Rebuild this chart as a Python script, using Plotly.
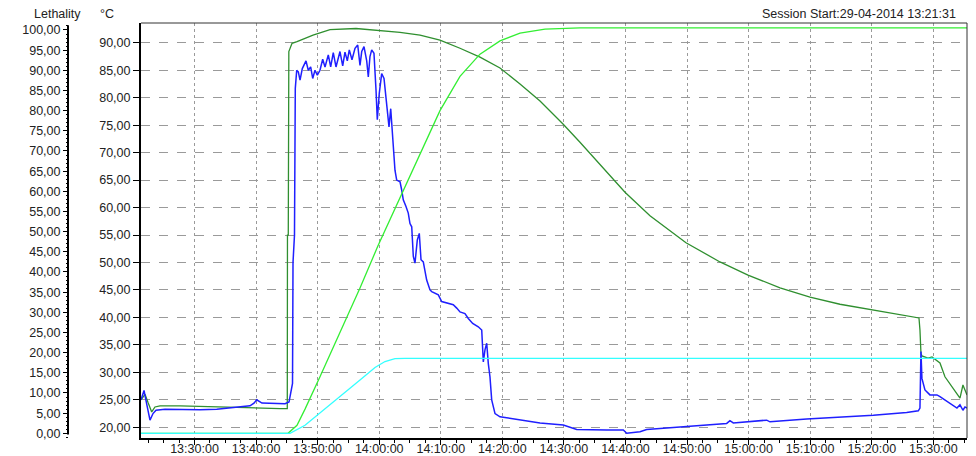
import pandas as pd
import plotly.graph_objects as go

# ---------------- data (time in minutes after 13:00 on 29-04-2014) ----------------
SESSION_DAY = "2014-04-29 13:00:00"

temp1_min = [21.31, 21.64, 21.96, 22.45, 23.05, 23.58, 24.40, 27.64, 30.89, 33.33, 37.39,
             40.64, 43.89, 45.07, 45.10, 45.23, 45.32, 45.84, 46.65, 49.25, 52.01, 56.23,
             59.80, 63.38, 66.63, 69.87, 73.12, 76.37, 79.62, 82.87, 86.12, 89.85, 92.61,
             95.86, 99.92, 103.98, 109.83, 115.35, 119.90, 125.10, 129.97, 134.84, 140.04,
             144.59, 147.67, 147.83, 147.99, 148.15, 148.64, 149.13, 149.78, 151.08, 151.89,
             153.03, 154.33, 154.81, 155.14, 155.47]
temp1_val = [25.0, 25.5, 26.0, 24.5, 22.8, 23.7, 23.9, 23.9, 23.8, 23.6, 23.6,
             23.5, 23.4, 23.4, 55.0, 55.0, 88.4, 89.9, 90.2, 91.4, 92.4, 92.6,
             92.3, 91.9, 91.4, 90.5, 89.0, 87.4, 85.4, 82.5, 79.4, 75.2, 71.9,
             67.9, 62.8, 58.5, 53.6, 50.1, 47.7, 45.4, 43.7, 42.4, 41.4,
             40.6, 39.9, 37.7, 33.5, 33.0, 32.8, 32.6, 32.8, 31.7, 29.2,
             27.4, 25.3, 27.7, 26.8, 25.9]

temp2_min = [21.31, 21.80, 22.28, 22.77, 23.26, 23.75, 25.21, 30.89, 33.61, 35.77, 37.39,
             39.01, 39.66, 40.10, 40.96, 44.70, 45.35, 45.67, 45.92, 46.00, 46.24, 46.37,
             46.60, 46.86, 47.14, 47.51, 48.11, 48.48, 48.87, 49.20, 49.57, 49.95, 50.38,
             50.82, 51.20, 51.73, 52.12, 52.54, 52.98, 53.63, 54.07, 54.44, 54.82, 55.14,
             55.58, 56.07, 56.51, 56.88, 57.16, 57.53, 57.97, 58.23, 58.50, 58.78, 59.15,
             59.48, 59.59, 59.69, 60.01, 60.40, 60.78, 61.22, 61.59, 61.87, 62.19, 62.56,
             62.84, 63.38, 63.65, 63.91, 64.35, 64.72, 65.00, 65.28, 65.54, 65.81, 66.19,
             66.51, 66.79, 67.16, 67.71, 68.25, 68.53, 69.60, 70.15, 72.03, 72.59, 73.12,
             73.93, 74.47, 75.18, 76.09, 76.65, 76.91, 77.18, 77.46, 77.72, 77.99, 78.27,
             78.81, 79.62, 81.24, 82.87, 86.12, 89.90, 92.08, 96.95, 99.65, 100.20, 102.36,
             103.44, 109.94, 112.10, 116.44, 116.97, 117.51, 122.94, 123.47, 129.43, 134.84,
             140.25, 145.67, 147.56, 147.83, 147.99, 148.15, 148.64, 149.45, 150.59, 151.08,
             151.89, 153.03, 153.84, 154.33, 154.81, 155.14, 155.47]
temp2_val = [25.0, 26.7, 24.0, 21.3, 22.5, 23.1, 23.3, 23.2, 23.3, 23.5, 23.7,
             23.9, 24.4, 25.0, 24.4, 24.3, 24.6, 26.5, 28.0, 50.0, 55.0, 81.7,
             85.0, 84.7, 83.2, 85.3, 86.7, 85.0, 85.6, 83.5, 85.0, 84.1, 85.0,
             87.0, 85.6, 87.8, 85.6, 88.2, 85.6, 88.4, 85.8, 88.3, 86.7, 88.7,
             86.9, 89.0, 89.6, 85.9, 88.4, 89.3, 86.7, 83.8, 87.5, 88.7, 88.1,
             81.4, 78.7, 76.0, 80.8, 84.4, 83.5, 78.3, 74.7, 78.0, 72.9, 66.8,
             65.0, 64.7, 63.2, 61.4, 60.2, 59.0, 57.1, 56.5, 51.1, 49.9, 54.1,
             55.3, 50.5, 50.1, 46.8, 45.0, 44.7, 44.1, 42.9, 42.3, 41.7, 41.0,
             40.7, 39.8, 38.9, 38.3, 37.7, 31.9, 34.1, 35.3, 31.6, 29.2, 25.0,
             22.5, 21.9, 21.6, 21.3, 20.8, 20.4, 19.6, 19.5, 19.5, 18.9, 19.2,
             19.6, 20.2, 20.4, 20.7, 21.2, 20.8, 21.3, 21.0, 21.5, 21.8,
             22.2, 22.7, 23.0, 23.5, 33.8, 28.9, 26.8, 25.9, 25.9, 25.6,
             25.0, 24.2, 23.5, 24.1, 23.1, 23.7, 23.5]

leth1_min = [21.31, 45.19, 46.65, 47.95, 50.38, 53.63, 56.88, 59.80, 63.38, 66.63, 69.87,
             73.12, 76.37, 79.62, 82.87, 86.93, 92.61, 155.47]
leth1_val = [0.0, 0.0, 2.0, 6.0, 14.0, 25.0, 36.0, 46.5, 58.5, 69.5, 80.0,
             88.5, 94.0, 97.3, 99.2, 100.2, 100.5, 100.5]

leth2_min = [21.31, 45.51, 47.95, 50.38, 53.63, 56.88, 59.32, 60.94, 62.56, 64.19, 155.47]
leth2_val = [0.0, 0.0, 2.0, 5.0, 9.0, 13.2, 16.3, 17.8, 18.5, 18.6, 18.6]

session_label = "Session Start:29-04-2014 13:21:31"
x_start_min, x_end_min = 21.31, 155.47

# ---------------- helpers ----------------
base = pd.Timestamp(SESSION_DAY)


def to_time(mins):
    return [base + pd.to_timedelta(m, unit="min") for m in mins]


FONT = "Liberation Sans, Arial, sans-serif"
TXT = "#222222"
FS = 12.5

fig = go.Figure()
fig.add_trace(go.Scatter(x=to_time(leth1_min), y=leth1_val, mode="lines", yaxis="y2",
                         line=dict(color="#33ee33", width=1.3), name="Lethality 1"))
fig.add_trace(go.Scatter(x=to_time(leth2_min), y=leth2_val, mode="lines", yaxis="y2",
                         line=dict(color="#33ffff", width=1.3), name="Lethality 2"))
fig.add_trace(go.Scatter(x=to_time(temp1_min), y=temp1_val, mode="lines",
                         line=dict(color="#2f8f2f", width=1.3), name="Temp 1"))
fig.add_trace(go.Scatter(x=to_time(temp2_min), y=temp2_val, mode="lines",
                         line=dict(color="#1f1fff", width=1.5), name="Temp 2"))

W, H = 976, 456
ml, mr, mt, mb = 0, 9, 23, 18
plot_w = W - ml - mr
x_left_px = 141
leth_axis_px = 68

fig.update_layout(
    width=W, height=H,
    margin=dict(l=ml, r=mr, t=mt, b=mb, pad=0),
    paper_bgcolor="white", plot_bgcolor="white",
    showlegend=False,
    separators=",.",
    font=dict(family=FONT, size=FS, color=TXT),
    xaxis=dict(
        domain=[x_left_px / plot_w, 1],
        type="date",
        range=[to_time([x_start_min])[0], to_time([x_end_min])[0]],
        tick0="2014-04-29 13:30:00", dtick=600000,
        tickformat="%H:%M:%S",
        ticks="outside", ticklen=5, tickcolor="black", tickwidth=1,
        ticklabelstandoff=-7,
        minor=dict(dtick=150000, tick0="2014-04-29 13:30:00", ticks="outside",
                   ticklen=3, tickcolor="black", showgrid=False),
        showgrid=True, gridcolor="#9a9a9a", griddash="dot", gridwidth=1,
        showline=True, linecolor="black", linewidth=2,
        zeroline=False, automargin=False,
        tickfont=dict(size=FS, color=TXT),
    ),
    yaxis=dict(
        range=[18.05, 93.6],
        tick0=20, dtick=5, tickformat=".2f",
        ticks="outside", ticklen=6, tickcolor="black",
        showgrid=True, gridcolor="#9a9a9a", griddash="dash", gridwidth=1,
        showline=True, linecolor="black", linewidth=2,
        zeroline=False, automargin=False,
        tickfont=dict(size=FS, color=TXT),
    ),
    yaxis2=dict(
        overlaying="y", side="left", anchor="free",
        position=leth_axis_px / plot_w,
        range=[-1.165, 101.73],
        tick0=0, dtick=5, tickformat=".2f",
        ticks="outside", ticklen=5, tickcolor="black",
        minor=dict(dtick=1, ticks="outside", ticklen=2, tickcolor="black", showgrid=False),
        showgrid=False, showline=False, zeroline=False, automargin=False,
        tickfont=dict(size=FS, color=TXT),
    ),
)

# lethality axis line and plot frame (top/right)
fig.add_shape(type="line", xref="paper", yref="y2",
              x0=leth_axis_px / plot_w, x1=leth_axis_px / plot_w, y0=-0.3, y1=101.2,
              line=dict(color="black", width=2))
fig.add_shape(type="line", xref="paper", yref="paper", x0=x_left_px / plot_w, x1=1, y0=1, y1=1,
              line=dict(color="#333333", width=1))
fig.add_shape(type="line", xref="paper", yref="paper", x0=1, x1=1, y0=0, y1=1,
              line=dict(color="#333333", width=1))

ytext = 1 + (mt - 14) / (H - mt - mb)
fig.add_annotation(text="Lethality", xref="paper", yref="paper", x=57 / plot_w, y=ytext,
                   xanchor="center", yanchor="middle", showarrow=False,
                   font=dict(size=FS, color=TXT))
fig.add_annotation(text="°C", xref="paper", yref="paper", x=107 / plot_w, y=ytext,
                   xanchor="center", yanchor="middle", showarrow=False,
                   font=dict(size=FS, color=TXT))
fig.add_annotation(text=session_label, xref="paper", yref="paper", x=958 / plot_w, y=ytext,
                   xanchor="right", yanchor="middle", showarrow=False,
                   font=dict(size=FS, color=TXT))

fig.write_html("out.html")
